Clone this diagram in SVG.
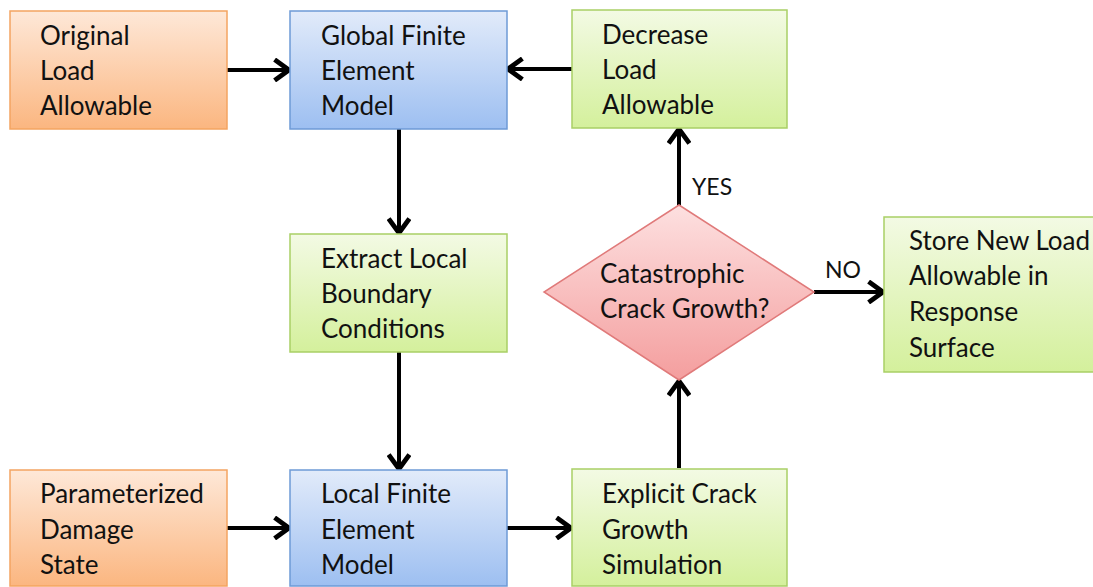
<svg xmlns="http://www.w3.org/2000/svg" width="1093" height="587" viewBox="0 0 1093 587">
<style>
text{font-family:"Lato","Liberation Sans",sans-serif;font-size:26px;fill:#111}
.o{fill:url(#go);stroke:#f4a461;stroke-width:1.5}
.b{fill:url(#gb);stroke:#6e9ad6;stroke-width:1.5}
.g{fill:url(#gg);stroke:#a9cf66;stroke-width:1.5}
.r{fill:url(#gr);stroke:#e07a7a;stroke-width:1.5}
.c{stroke:#000;stroke-width:4;fill:none;marker-end:url(#ah)}
.lbl{font-size:23px}
</style>
<defs>
<linearGradient id="go" x1="0" y1="0" x2="0" y2="1"><stop offset="0" stop-color="#fee8d8"/><stop offset="1" stop-color="#fbb680"/></linearGradient>
<linearGradient id="gb" x1="0" y1="0" x2="0" y2="1"><stop offset="0" stop-color="#e2ebfa"/><stop offset="1" stop-color="#9dbff1"/></linearGradient>
<linearGradient id="gg" x1="0" y1="0" x2="0" y2="1"><stop offset="0" stop-color="#f3fae4"/><stop offset="1" stop-color="#d4f09c"/></linearGradient>
<linearGradient id="gr" x1="0" y1="0" x2="0" y2="1"><stop offset="0" stop-color="#fde0e0"/><stop offset="1" stop-color="#f49e9e"/></linearGradient>
<marker id="ah" markerWidth="6" markerHeight="6" refX="4.6" refY="3" orient="auto" markerUnits="strokeWidth" viewBox="0 0 6 6"><polyline points="1,0.4 4.6,3 1,5.6" fill="none" stroke="#000" stroke-width="1.2" stroke-linejoin="miter"/></marker>
</defs>
<g id="connectors">
<line class="c" x1="227" y1="70" x2="289" y2="70"/>
<line class="c" x1="572" y1="69" x2="508" y2="69"/>
<line class="c" x1="399" y1="129" x2="399" y2="233"/>
<line class="c" x1="399" y1="352" x2="399" y2="469"/>
<line class="c" x1="227" y1="528" x2="289" y2="528"/>
<line class="c" x1="507" y1="528" x2="571" y2="528"/>
<line class="c" x1="679" y1="468" x2="679" y2="381"/>
<line class="c" x1="679" y1="206" x2="679" y2="129"/>
<line class="c" x1="814" y1="292" x2="883" y2="292"/>
<text class="lbl" x="692" y="195">YES</text>
<text class="lbl" x="825" y="278">NO</text>
</g>
<g id="original">
<rect class="o" x="10" y="11" width="217" height="118"/>
<text x="40" y="45">Original</text><text x="40" y="80">Load</text><text x="40" y="115">Allowable</text>
</g>
<g id="global">
<rect class="b" x="290" y="11" width="217" height="118"/>
<text x="321" y="45">Global Finite</text><text x="321" y="80">Element</text><text x="321" y="115">Model</text>
</g>
<g id="decrease">
<rect class="g" x="572" y="10" width="215" height="118"/>
<text x="602" y="44">Decrease</text><text x="602" y="79">Load</text><text x="602" y="114">Allowable</text>
</g>
<g id="extract">
<rect class="g" x="290" y="234" width="217" height="118"/>
<text x="321" y="268">Extract Local</text><text x="321" y="303">Boundary</text><text x="321" y="338">Conditions</text>
</g>
<g id="decision">
<polygon class="r" points="679,205 814,292 679,380 544,292"/>
<text x="600" y="283">Catastrophic</text><text x="600" y="318">Crack Growth?</text>
</g>
<g id="store">
<rect class="g" x="884" y="217" width="215" height="155"/>
<text x="909" y="250">Store New Load</text><text x="909" y="285">Allowable in</text><text x="909" y="321">Response</text><text x="909" y="357">Surface</text>
</g>
<g id="parameterized">
<rect class="o" x="10" y="470" width="217" height="116"/>
<text x="40" y="503">Parameterized</text><text x="40" y="539">Damage</text><text x="40" y="574">State</text>
</g>
<g id="local">
<rect class="b" x="290" y="470" width="217" height="116"/>
<text x="321" y="503">Local Finite</text><text x="321" y="539">Element</text><text x="321" y="574">Model</text>
</g>
<g id="explicit">
<rect class="g" x="572" y="469" width="215" height="117"/>
<text x="602" y="503">Explicit Crack</text><text x="602" y="539">Growth</text><text x="602" y="574">Simulation</text>
</g>
</svg>
